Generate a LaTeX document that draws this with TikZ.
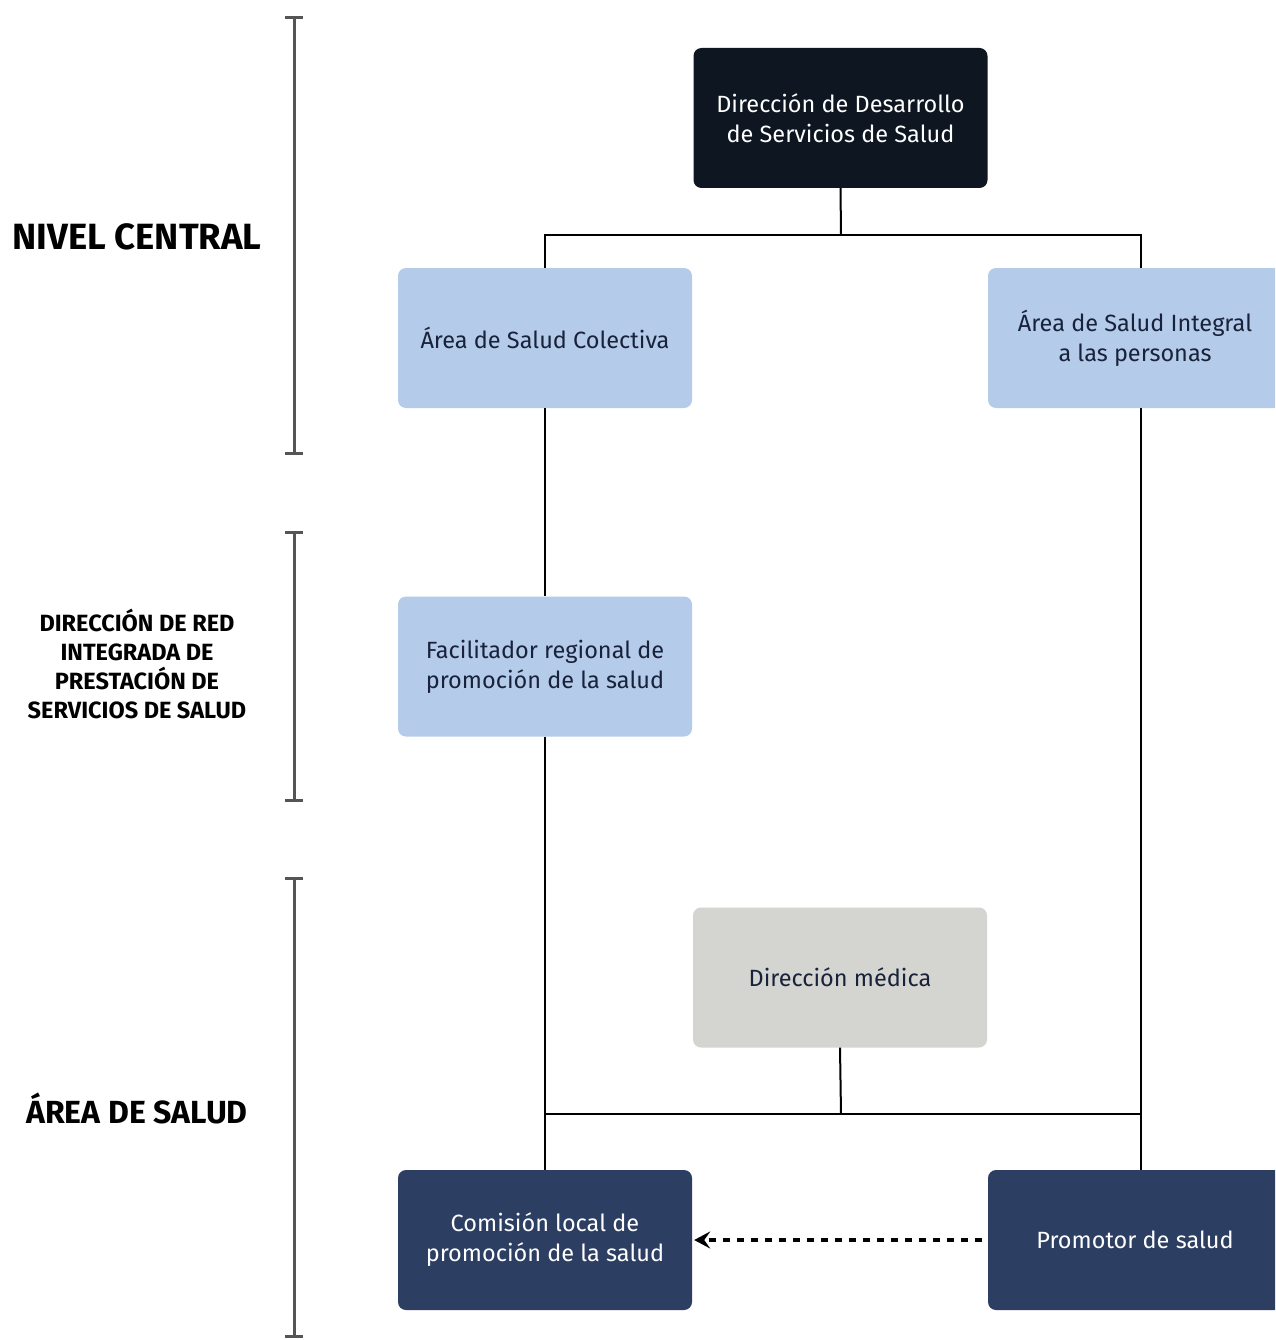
\documentclass[tikz,border=0pt]{standalone}
\usepackage{fontspec}
\setmainfont{Fira Sans}
\usetikzlibrary{arrows.meta}
\definecolor{topfill}{HTML}{0E1621}
\definecolor{lightfill}{HTML}{B4CBEA}
\definecolor{grayfill}{HTML}{D4D4D0}
\definecolor{darkfill}{HTML}{2D3E63}
\definecolor{inktext}{HTML}{18223A}
\definecolor{bracketgray}{HTML}{555555}
\tikzset{
  orgbox/.style={rectangle, rounded corners=8pt, minimum width=294pt, minimum height=140pt,
    align=center, font=\fontsize{23.5}{30}\selectfont, inner sep=4pt},
  topbox/.style={orgbox, fill=topfill, text=white},
  areabox/.style={orgbox, fill=lightfill, text=inktext},
  medbox/.style={orgbox, fill=grayfill, text=inktext},
  basebox/.style={orgbox, fill=darkfill, text=white},
  link/.style={line width=2pt, black},
  levelbar/.style={line width=3pt, bracketgray},
  levellabel/.style={align=center, text=black},
}
\begin{document}
\begin{tikzpicture}[x=1pt, y=-1pt]
\useasboundingbox (0,0) rectangle (1275,1340);
\fill[white] (0,0) rectangle (1275,1340);
\clip (0,0) rectangle (1275,1340);

% level brackets
\draw[levelbar] (285,18) -- (303,18) (294,18) -- (294,453) (285,453) -- (303,453);
\draw[levelbar] (285,532) -- (303,532) (294,532) -- (294,800) (285,800) -- (303,800);
\draw[levelbar] (285,878) -- (303,878) (294,878) -- (294,1336) (285,1336) -- (303,1336);

% level names
\node[levellabel, font=\fontsize{36.5}{40}\selectfont\bfseries] (lvlA) at (137,237) {NIVEL CENTRAL};
\node[levellabel, font=\fontsize{23.5}{29}\selectfont\bfseries] (lvlB) at (137,664) {DIRECCIÓN DE RED\\INTEGRADA DE\\PRESTACIÓN DE\\SERVICIOS DE SALUD};
\node[levellabel, font=\fontsize{32}{36}\selectfont\bfseries] (lvlC) at (137,1108) {ÁREA DE SALUD};

% boxes
\node[topbox]  (top)       at (840.5,118)  {Dirección de Desarrollo\\de Servicios de Salud};
\node[areabox] (colectiva) at (545,338)    {Área de Salud Colectiva};
\node[areabox] (integral)  at (1135,338)   {Área de Salud Integral\\a las personas};
\node[areabox] (facil)     at (545,666.5)  {Facilitador regional de\\promoción de la salud};
\node[medbox]  (medica)    at (840,977.5)  {Dirección médica};
\node[basebox] (comision)  at (545,1240)   {Comisión local de\\promoción de la salud};
\node[basebox] (promotor)  at (1135,1240)  {Promotor de salud};

% junctions
\coordinate (jt) at (841,235);
\coordinate (jb) at (841,1114);
\coordinate (rtop) at ([xshift=6pt]integral.north);
\coordinate (rbot) at ([xshift=6pt]integral.south);
\coordinate (rend) at ([xshift=6pt]promotor.north);

% connectors
\draw[link] (top.south) -- (jt);
\draw[link] (colectiva.north) |- (jt) -| (rtop);
\draw[link] (colectiva.south) -- (facil.north);
\draw[link] (facil.south) -- (comision.north);
\draw[link] (rbot) -- (rend);
\draw[link] (medica.south) -- (jb);
\draw[link] (jb -| comision.north) -- (jb -| rend);

% dashed link
\draw[line width=3.5pt, dash pattern=on 7pt off 7pt, -{Stealth[length=16pt, width=17pt, inset=6pt]}]
  ([xshift=-6pt]promotor.west) -- ([xshift=2pt]comision.east);
\end{tikzpicture}
\end{document}
